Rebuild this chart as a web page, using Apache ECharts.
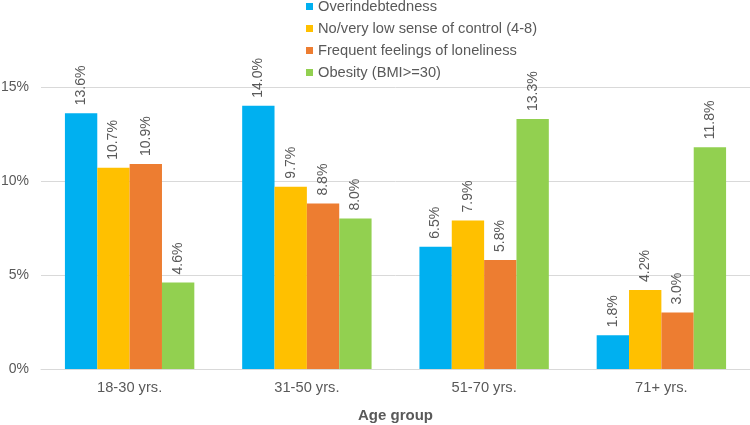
<!DOCTYPE html>
<html>
<head>
<meta charset="utf-8">
<script src="https://cdn.jsdelivr.net/npm/echarts@6/dist/echarts.min.js"></script>
<style>
  html, body { margin: 0; padding: 0; background: #fff; }
  #chart { width: 750px; height: 425px; }
</style>
</head>
<body>
<div id="chart"></div>
<script>
// age groups on the x axis
const ageGroups = ['18-30 yrs.', '31-50 yrs.', '51-70 yrs.', '71+ yrs.'];

// shares in percent, one array per indicator
const overindebtedness = [13.6, 14.0, 6.5, 1.8];
const lowControl = [10.7, 9.7, 7.9, 4.2];
const loneliness = [10.9, 8.8, 5.8, 3.0];
const obesity = [4.6, 8.0, 13.3, 11.8];

const seriesNames = [
  'Overindebtedness',
  'No/very low sense of control (4-8)',
  'Frequent feelings of loneliness',
  'Obesity (BMI>=30)'
];
const seriesValues = [overindebtedness, lowControl, loneliness, obesity];
const colors = ['#00B0F0', '#FFC000', '#ED7D31', '#92D050'];

const font = '"Liberation Sans", Arial, sans-serif';
const grey = '#595959';

const chart = echarts.init(document.getElementById('chart'));

const option = {
  animation: false,
  textStyle: { fontFamily: font },
  legend: {
    orient: 'vertical',
    left: 306,
    top: -1,
    padding: 0,
    itemWidth: 7,
    itemHeight: 7,
    itemGap: 7,
    icon: 'rect',
    textStyle: { fontSize: 14.67, color: grey, fontFamily: font, lineHeight: 15 },
    data: seriesNames
  },
  grid: { left: 41, right: 0, top: 87, bottom: 56, outerBoundsMode: 'none' },
  xAxis: {
    type: 'category',
    data: ageGroups,
    axisTick: { show: false },
    axisLine: { lineStyle: { color: '#D9D9D9' } },
    axisLabel: { fontSize: 14.67, color: grey, margin: 11, fontFamily: font },
    name: 'Age group',
    nameLocation: 'middle',
    nameGap: 39,
    nameTextStyle: { fontSize: 15, fontWeight: 'bold', color: grey, fontFamily: font }
  },
  yAxis: {
    type: 'value',
    min: 0,
    max: 15,
    interval: 5,
    axisLine: { show: false },
    axisTick: { show: false },
    splitLine: { lineStyle: { color: '#D9D9D9' } },
    axisLabel: {
      fontSize: 14, color: grey, margin: 12, fontFamily: font,
      formatter: v => v + '%'
    }
  },
  series: seriesNames.map((name, i) => ({
    name: name,
    type: 'bar',
    data: seriesValues[i],
    barGap: 0,
    barCategoryGap: '27%',
    itemStyle: { color: colors[i] },
    label: {
      show: true,
      position: 'top',
      rotate: 90,
      align: 'left',
      verticalAlign: 'middle',
      distance: 8,
      fontSize: 14,
      color: grey,
      fontFamily: font,
      formatter: p => p.value.toFixed(1) + '%'
    }
  }))
};

chart.setOption(option);
</script>
</body>
</html>
